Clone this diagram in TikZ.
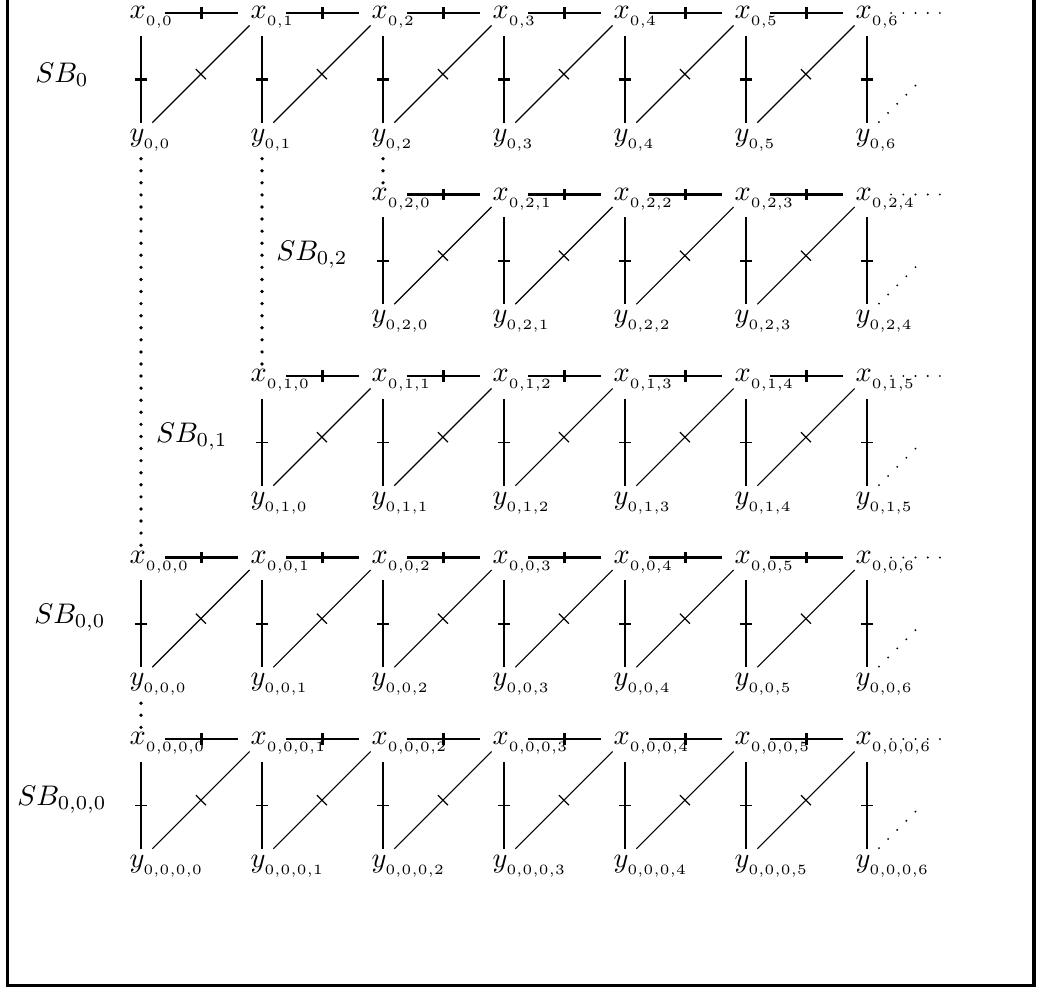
\documentclass[tikz,border=0pt]{standalone}
\usetikzlibrary{decorations.markings}

\tikzset{
    xlab/.style={anchor=base west, inner sep=0pt, xshift=-4.2pt, yshift=-2pt},
    ylab/.style={anchor=base west, inner sep=0pt, xshift=-4.2pt, yshift=-2.5pt},
    midtick/.style={postaction={decorate, decoration={markings,
        mark=at position 0.5 with {\draw[line width=#1] (0,-2.1pt) -- (0,2.1pt);}}}},
    hedge/.style={line width=0.9pt, midtick=0.9pt},
    vedge/.style={line width=0.9pt, midtick=#1},
    dedge/.style={line width=0.4pt, postaction={decorate, decoration={markings,
        mark=at position 0.5 with {\draw[line width=0.4pt] (0,-2.5pt) -- (0,2.5pt);}}}},
    vdots/.style={line width=1.3pt, line cap=round, dash pattern=on 0pt off 4.26pt},
    tdots/.style={line width=0.75pt, line cap=round, dash pattern=on 0pt off 4.3pt},
    ddots/.style={line width=0.75pt, line cap=round, dash pattern=on 0pt off 4.55pt},
}

\begin{document}
\begin{tikzpicture}
\useasboundingbox (-1.748,-12.148) rectangle (11.107,0.161);
\draw[line width=1.1pt] (-1.655,0.161) -- (-1.655,-12.05) -- (11.07,-12.05) -- (11.07,0.161);

% rows: index / subscript prefix / first column / last index
\foreach \r/\pre/\s/\n in {0/0/0/6, 1/{0,2}/2/4, 2/{0,1}/1/5, 3/{0,0}/0/6, 4/{0,0,0}/0/6} {
    \pgfmathsetmacro\tw{\r==0 ? 0.9 : 0.55}
    \foreach \i in {0,...,\n} {
        \coordinate (x-\r-\i) at ({(\s+\i)*1.5},{-\r*2.25});
        \coordinate (y-\r-\i) at ({(\s+\i)*1.5},{-\r*2.25-1.5});
        \node[xlab] (xl-\r-\i) at (x-\r-\i) {$x_{_{\pre,\i}}$};
        \node[ylab] (yl-\r-\i) at (y-\r-\i) {$y_{_{\pre,\i}}$};
        \draw[vedge=\tw pt] ([yshift=-8.1pt]x-\r-\i) -- ([yshift=3.9pt]y-\r-\i);
    }
    \foreach \i [evaluate=\i as \j using int(\i-1)] in {1,...,\n} {
        \draw[hedge] ([xshift=8.5pt]x-\r-\j) -- ([xshift=-8.5pt]x-\r-\i);
        \draw[dedge] ([shift={(4pt,4pt)}]y-\r-\j) -- ([shift={(-4.4pt,-4.4pt)}]x-\r-\i);
    }
    \draw[tdots] ([xshift=8.5pt]x-\r-\n) -- ([xshift=26pt]x-\r-\n);
    \draw[ddots] ([shift={(4.2pt,4.2pt)}]y-\r-\n) -- ([shift={(17.4pt,17.4pt)}]y-\r-\n);
}

\node (sb0) at (-0.98,-0.77) {$SB_0$};
\node (sb02) at (2.12,-3.0) {$SB_{0,2}$};
\node (sb01) at (0.63,-5.25) {$SB_{0,1}$};
\node (sb00) at (-0.88,-7.5) {$SB_{0,0}$};
\node (sb000) at (-0.98,-9.75) {$SB_{0,0,0}$};

\draw[vdots] ([yshift=-8.7pt]y-0-0) -- ([yshift=4pt]x-3-0);
\draw[vdots] ([yshift=-8.7pt]y-0-1) -- ([yshift=4pt]x-2-0);
\draw[vdots] ([yshift=-8.7pt]y-0-2) -- ([yshift=4pt]x-1-0);
\draw[vdots] ([yshift=-8.7pt]y-3-0) -- ([yshift=4pt]x-4-0);
\end{tikzpicture}
\end{document}
